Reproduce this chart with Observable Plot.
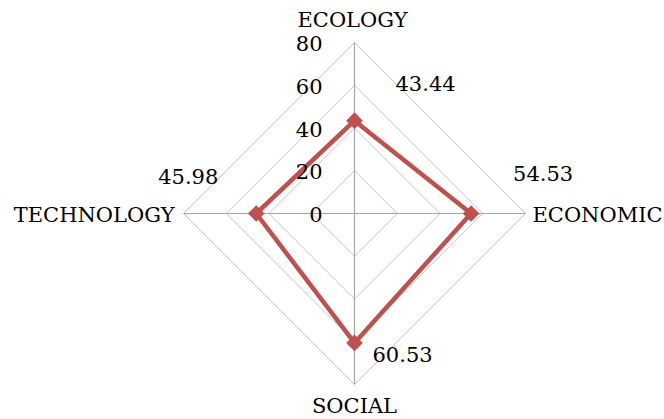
<!DOCTYPE html>
<html>
<head>
<meta charset="utf-8">
<script src="https://cdn.jsdelivr.net/npm/d3@7"></script>
<script src="https://cdn.jsdelivr.net/npm/@observablehq/plot@0.6"></script>
<style>
  html, body { margin: 0; padding: 0; background: #fff; }
  #chart svg { display: block; }
</style>
</head>
<body>
<div id="chart"></div>
<script>
// ---- data ----
const axes = ["ECOLOGY", "ECONOMIC", "SOCIAL", "TECHNOLOGY"];
const values = [43.44, 54.53, 60.53, 45.98];
const ticks = [0, 20, 40, 60, 80];
const maxValue = 80;

// ---- layout (pixels) ----
const W = 664, H = 419;
const cx = 354, cy = 213, R = 171;
const unit = maxValue / R; // data units per pixel
const font = "DejaVu Serif";
const fs = 21;

// angle of each axis: ECOLOGY up, clockwise
const angle = i => Math.PI / 2 - i * Math.PI / 2;
const px = (i, v) => v * Math.cos(angle(i));
const py = (i, v) => v * Math.sin(angle(i));

// grid rings
const rings = [];
ticks.filter(t => t > 0).forEach(t => {
  for (let k = 0; k <= axes.length; k++) rings.push({ring: t, i: k % axes.length, v: t});
});
const spokes = axes.map((a, i) => ({i}));
const series = [...values.map((v, i) => ({i, v})), {i: 0, v: values[0]}];
const points = values.map((v, i) => ({i, v}));

// label offsets (pixels) for value labels, mimicking the original placement
const labelDx = [41, 42, 18, -98];
const labelDy = [-36, -39, 12, -36];

// axis label anchors
const axisAnchor = ["middle", "start", "middle", "end"];
const axisDx = [-2, 7, 0, -9];
const axisDy = [-22, 2, 22, 2];

const chart = Plot.plot({
  width: W,
  height: H,
  margin: 0,
  style: {fontFamily: font, background: "#fff"},
  x: {domain: [-cx * unit, (W - cx) * unit], range: [0, W], axis: null},
  y: {domain: [-(H - cy) * unit, cy * unit], range: [H, 0], axis: null},
  marks: [
    Plot.line(rings, {
      x: d => px(d.i, d.v), y: d => py(d.i, d.v), z: "ring",
      stroke: "#c4c4c4", strokeWidth: 1
    }),
    Plot.link(spokes, {
      x1: 0, y1: 0,
      x2: d => px(d.i, maxValue), y2: d => py(d.i, maxValue),
      stroke: "#a6a6a6", strokeWidth: 1.2
    }),
    Plot.line(series, {
      x: d => px(d.i, d.v), y: d => py(d.i, d.v),
      stroke: "#c0504d", strokeWidth: 4.5, strokeLinejoin: "miter"
    }),
    Plot.dot(points, {
      x: d => px(d.i, d.v), y: d => py(d.i, d.v),
      symbol: "diamond2", r: 7.5, fill: "#c0504d", stroke: "none"
    }),
    Plot.text(ticks, {
      x: 0, y: d => d, text: d => String(d),
      textAnchor: "end", dx: -32, dy: 2,
      fontSize: fs, fill: "#000"
    }),
    ...axes.map((a, i) => Plot.text([a], {
      x: px(i, maxValue), y: py(i, maxValue), text: d => d,
      textAnchor: axisAnchor[i], dx: axisDx[i], dy: axisDy[i],
      fontSize: fs, fill: "#000"
    })),
    Plot.text(points, {
      x: d => px(d.i, d.v), y: d => py(d.i, d.v),
      text: d => d.v.toFixed(2),
      textAnchor: "start",
      fontSize: fs, fill: "#000"
    })
  ]
});

// apply per-label offsets to value labels (last text mark)
const groups = chart.querySelectorAll("g[aria-label='text']");
const valueGroup = groups[groups.length - 1];
valueGroup.querySelectorAll("text").forEach((t, k) => {
  const tr = t.getAttribute("transform");
  t.setAttribute("transform", (tr ? tr + " " : "") + `translate(${labelDx[k]},${labelDy[k]})`);
});

document.getElementById("chart").appendChild(chart);
</script>
</body>
</html>
